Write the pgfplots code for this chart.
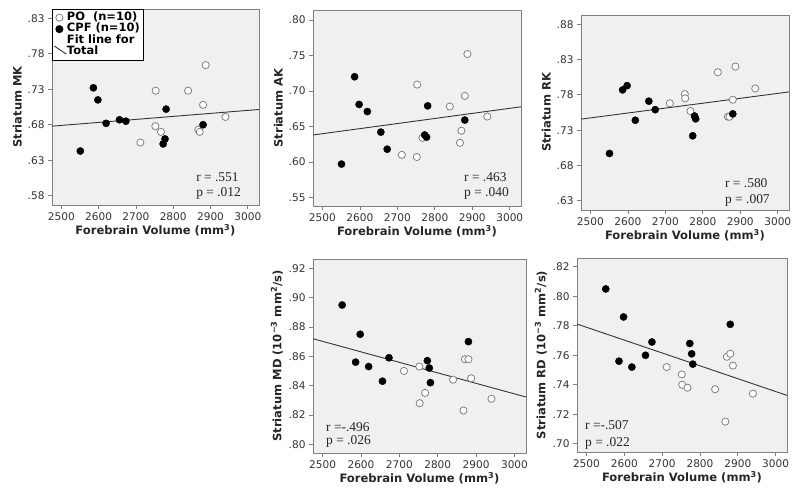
\documentclass[border=0pt]{standalone}
\usepackage{fontspec}
\setmainfont{Liberation Serif}
\setsansfont{DejaVu Sans}
\usepackage{pgfplots}
\pgfplotsset{compat=1.18}
\definecolor{bgc}{HTML}{F0F0F0}
\definecolor{framec}{HTML}{7F7F7F}
\definecolor{opc}{HTML}{808080}
\tikzset{rp/.style={font=\fontsize{13.5}{15}\selectfont, anchor=west, inner sep=0pt, text=black!85}}
\newcommand{\lf}{\sffamily\bfseries\fontsize{11.5}{12}\selectfont}
\pgfplotsset{
  panel/.style={
    scale only axis, anchor=north west,
    axis background/.style={fill=bgc},
    axis line style={draw=framec, line width=0.8pt},
    tick align=outside, xtick pos=left, ytick pos=left,
    major tick length=4bp, tick style={draw=framec, line width=0.7pt},
    xmin=2475, xmax=3030,
    xtick={2500,2600,2700,2800,2900,3000},
    xticklabels={2500,2600,2700,2800,2900,3000},
    ticklabel style={font=\sffamily\fontsize{10.6}{12}\selectfont, text=black!80},
    xlabel={Forebrain Volume (mm\textsuperscript{3})},
    label style={font=\sffamily\bfseries\fontsize{11.6}{13}\selectfont, text=black!85},
    xlabel style={yshift=3bp},
    ylabel style={yshift=-1bp},
  },
  po/.style={only marks, mark=*, mark size=3.6bp, mark options={draw=opc, fill=white, line width=0.8pt}},
  cpf/.style={only marks, mark=*, mark size=3.6bp, mark options={draw=black, fill=black}},
  fit/.style={no marks, draw=black!80, line width=0.9pt},
}
\begin{document}
\begin{tikzpicture}
\path[use as bounding box] (0,0) rectangle (800bp,503bp);

% ---------- MK ----------
\begin{axis}[panel, at={(52bp,494bp)}, width=207bp, height=196bp,
  ymin=0.567, ymax=0.843,
  ytick={0.58,0.63,0.68,0.73,0.78,0.83}, yticklabels={.58,.63,.68,.73,.78,.83},
  ylabel={Striatum MK},
  legend style={at={(rel axis cs:0.0,1.0)}, anchor=north west, draw=black, line width=0.8pt,
    fill=white, inner xsep=2pt, inner ysep=2.5pt,
    row sep=0pt, legend cell align=left,
    nodes={inner xsep=1.5pt, inner ysep=0.5pt, text height=8bp, text depth=2.5bp},
    /tikz/every odd column/.append style={column sep=2.5pt}},
  legend image code/.code={\draw[#1, mark size=3.6bp] plot coordinates {(5bp,0bp)};}]
\addplot[fit, forget plot] coordinates {(2475,0.678) (3030,0.7015)};
\addplot[po] coordinates {(2712,0.655) (2752,0.678) (2753,0.728) (2767,0.670) (2840,0.728) (2867,0.673) (2871,0.670) (2880,0.708) (2887,0.764) (2940,0.691)};
\addlegendentry{\lf PO\ \ (n=10)}
\addplot[cpf] coordinates {(2551,0.643) (2586,0.732) (2598,0.715) (2620,0.682) (2656,0.687) (2673,0.685) (2773,0.653) (2778,0.660) (2781,0.702) (2880,0.680)};
\addlegendentry{\lf CPF (n=10)}
\addlegendimage{empty legend}
\addlegendentry{\lf Fit line for}
\addlegendimage{legend image code/.code={\draw[overlay, black!85, line width=0.8pt] (0bp,6bp) -- (12bp,-2bp);}}
\addlegendentry{\lf Total}
\node[rp] at (rel axis cs:0.696,0.143) {r = .551};
\node[rp] at (rel axis cs:0.696,0.061) {p = .012};
\end{axis}

% ---------- AK ----------
\begin{axis}[panel, at={(313bp,493bp)}, width=208bp, height=196bp,
  ymin=0.538, ymax=0.814,
  ytick={0.55,0.60,0.65,0.70,0.75,0.80}, yticklabels={.55,.60,.65,.70,.75,.80},
  ylabel={Striatum AK}]
\addplot[fit] coordinates {(2475,0.638) (3030,0.6777)};
\addplot[po] coordinates {(2712,0.610) (2752,0.607) (2753,0.709) (2767,0.634) (2840,0.678) (2867,0.627) (2871,0.644) (2880,0.693) (2887,0.752) (2940,0.664)};
\addplot[cpf] coordinates {(2551,0.597) (2586,0.720) (2598,0.681) (2620,0.671) (2656,0.642) (2673,0.618) (2773,0.638) (2778,0.635) (2781,0.679) (2880,0.659)};
\node[rp] at (rel axis cs:0.726,0.148) {r = .463};
\node[rp] at (rel axis cs:0.726,0.066) {p = .040};
\end{axis}

% ---------- RK ----------
\begin{axis}[panel, at={(581bp,488bp)}, width=208bp, height=195bp,
  ymin=0.617, ymax=0.893,
  ytick={0.63,0.68,0.73,0.78,0.83,0.88}, yticklabels={.63,.68,.73,.78,.83,.88},
  ylabel={Striatum RK}]
\addplot[fit] coordinates {(2475,0.7456) (3030,0.7841)};
\addplot[po] coordinates {(2712,0.768) (2752,0.781) (2753,0.775) (2767,0.757) (2840,0.812) (2867,0.749) (2871,0.749) (2880,0.773) (2887,0.820) (2940,0.789)};
\addplot[cpf] coordinates {(2551,0.697) (2586,0.787) (2598,0.793) (2620,0.744) (2656,0.771) (2673,0.759) (2773,0.722) (2778,0.750) (2781,0.746) (2880,0.753)};
\node[rp] at (rel axis cs:0.692,0.138) {r = .580};
\node[rp] at (rel axis cs:0.692,0.051) {p = .007};
\end{axis}

% ---------- MD ----------
\begin{axis}[panel, at={(313bp,244bp)}, width=213bp, height=194bp,
  ymin=0.794, ymax=0.9264,
  ytick={0.80,0.82,0.84,0.86,0.88,0.90,0.92}, yticklabels={.80,.82,.84,.86,.88,.90,.92},
  ylabel={Striatum MD (10\textsuperscript{−3} mm\textsuperscript{2}/s)}]
\addplot[fit] coordinates {(2475,0.872) (3030,0.8322)};
\addplot[po] coordinates {(2712,0.850) (2752,0.853) (2753,0.828) (2767,0.835) (2840,0.844) (2867,0.823) (2871,0.858) (2880,0.858) (2887,0.845) (2940,0.831)};
\addplot[cpf] coordinates {(2551,0.895) (2586,0.856) (2598,0.875) (2620,0.853) (2656,0.843) (2673,0.859) (2773,0.857) (2778,0.852) (2781,0.842) (2880,0.870)};
\node[rp] at (rel axis cs:0.061,0.134) {r =-.496};
\node[rp] at (rel axis cs:0.061,0.057) {p = .026};
\end{axis}

% ---------- RD ----------
\begin{axis}[panel, at={(577bp,245bp)}, width=210bp, height=194bp,
  ymin=0.6944, ymax=0.826,
  ytick={0.70,0.72,0.74,0.76,0.78,0.80,0.82}, yticklabels={.70,.72,.74,.76,.78,.80,.82},
  ylabel={Striatum RD (10\textsuperscript{−3} mm\textsuperscript{2}/s)}]
\addplot[fit] coordinates {(2475,0.7812) (3030,0.7328)};
\addplot[po] coordinates {(2712,0.752) (2752,0.747) (2753,0.740) (2767,0.738) (2840,0.737) (2867,0.715) (2871,0.759) (2880,0.761) (2887,0.753) (2940,0.734)};
\addplot[cpf] coordinates {(2551,0.805) (2586,0.756) (2598,0.786) (2620,0.752) (2656,0.760) (2673,0.769) (2773,0.768) (2778,0.761) (2781,0.754) (2880,0.781)};
\node[rp] at (rel axis cs:0.038,0.139) {r =-.507};
\node[rp] at (rel axis cs:0.038,0.046) {p = .022};
\end{axis}
\end{tikzpicture}
\end{document}
